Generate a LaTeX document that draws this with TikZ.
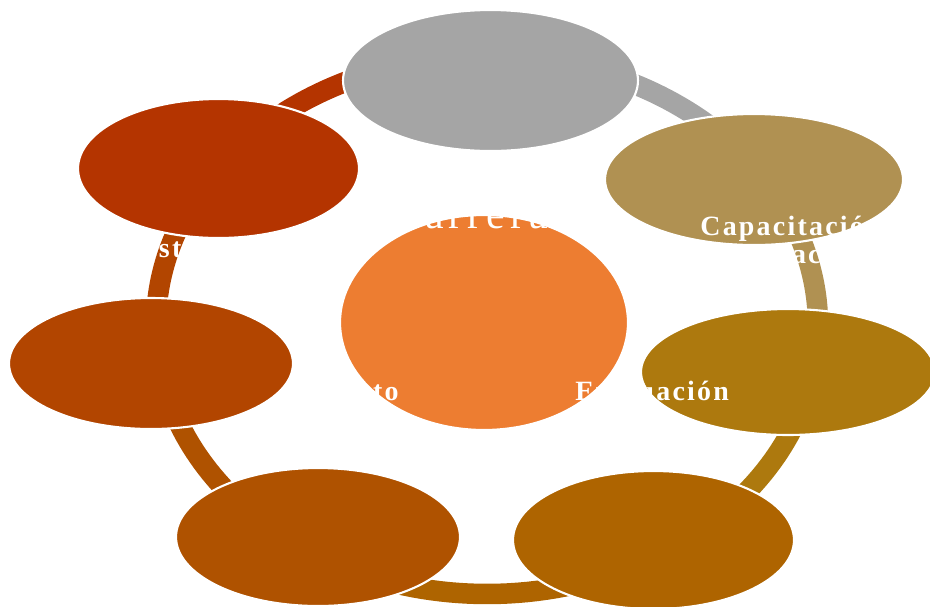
\documentclass[tikz,border=0pt]{standalone}
\usepackage{fontspec}
\usetikzlibrary{shapes.geometric}
\definecolor{petalgray}{HTML}{A5A5A5}
\definecolor{petaltan}{HTML}{B09152}
\definecolor{petalgold}{HTML}{AD790E}
\definecolor{petalamber}{HTML}{AE6400}
\definecolor{petalrust}{HTML}{AF5200}
\definecolor{petalbrick}{HTML}{B24500}
\definecolor{petalred}{HTML}{B43400}
\definecolor{coreorange}{HTML}{ED7D31}
\newfontfamily\petalfont[LetterSpace=8]{Liberation Serif}
\newfontfamily\corefont[LetterSpace=12]{Liberation Serif}

\begin{document}
\begin{tikzpicture}[x=0.02cm,y=-0.02cm,
  petal/.style={ellipse,draw=white,line width=1.2pt,inner sep=0pt},
  band/.style={line width=0.41cm},
  tag/.style={text=white,inner sep=0pt,font=\petalfont\bfseries\fontsize{15.9}{18}\selectfont}]
  \useasboundingbox (0,0) rectangle (930,606);
  \clip (0,0) rectangle (930,606);
  % ring, one band per petal
  \draw[band,petalgray]  plot[domain=-90:-34,samples=40] ({487+331*cos(\x)},{325+269*sin(\x)});
  \draw[band,petaltan]   plot[domain=-34:11,samples=40] ({487+331*cos(\x)},{325+269*sin(\x)});
  \draw[band,petalgold]  plot[domain=11:58,samples=40] ({487+331*cos(\x)},{325+269*sin(\x)});
  \draw[band,petalamber] plot[domain=58:123,samples=40] ({487+331*cos(\x)},{325+269*sin(\x)});
  \draw[band,petalrust]  plot[domain=123:172,samples=40] ({487+331*cos(\x)},{325+269*sin(\x)});
  \draw[band,petalbrick] plot[domain=172:216,samples=40] ({487+331*cos(\x)},{325+269*sin(\x)});
  \draw[band,petalred]   plot[domain=216:270,samples=40] ({487+331*cos(\x)},{325+269*sin(\x)});
  % petals
  \node[petal,fill=petalgray,minimum width=5.9cm,minimum height=2.82cm]  (top)    at (490.5,80.5) {};
  \node[petal,fill=petaltan,minimum width=5.96cm,minimum height=2.62cm]  (upright) at (754,179.5) {};
  \node[petal,fill=petalgold,minimum width=5.88cm,minimum height=2.52cm] (right)  at (788,372) {};
  \node[petal,fill=petalamber,minimum width=5.62cm,minimum height=2.76cm] (lowright) at (653.5,540) {};
  \node[petal,fill=petalrust,minimum width=5.68cm,minimum height=2.76cm] (lowleft) at (318,537) {};
  \node[petal,fill=petalbrick,minimum width=5.68cm,minimum height=2.62cm] (left)  at (151,363.5) {};
  \node[petal,fill=petalred,minimum width=5.62cm,minimum height=2.78cm]  (upleft) at (218.5,168.5) {};
  \node[petal,fill=coreorange,minimum width=5.76cm,minimum height=4.3cm] (core)   at (484,322.5) {};
  % labels
  \node[text=white,inner sep=0pt,anchor=base east,font=\corefont\fontsize{23.8}{26}\selectfont] (carrera) at (548,228) {Carrera};
  \node[tag,anchor=base west] (capac) at (700,235) {Capacitación};
  \node[tag,anchor=base west] (formac) at (716,263) {Formación};
  \node[tag,anchor=base west] (gestion) at (120,257) {Gestión};
  \node[tag,anchor=base east] (talento) at (399,400) {Talento};
  \node[tag,anchor=base west] (evalua) at (575,400) {Evaluación};
\end{tikzpicture}
\end{document}
